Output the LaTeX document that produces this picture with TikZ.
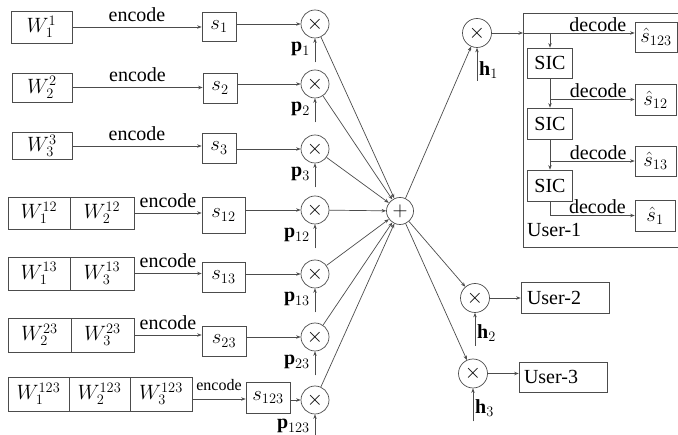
\documentclass[tikz,border=0pt]{standalone}
\usepackage{fontspec}
\setmainfont{Liberation Serif}
\usetikzlibrary{arrows.meta}
\definecolor{lc}{gray}{0.3}
\begin{document}
\begin{tikzpicture}[x=1pt,y=-1pt,
  every node/.style={font=\fontsize{20}{24}\selectfont},
  box/.style={draw=lc, line width=0.7pt, inner sep=0pt, anchor=center},
  mul/.style={circle, draw=lc, line width=0.7pt, minimum size=28pt, inner sep=0pt},
  arr/.style={draw=lc, line width=0.7pt, -{Stealth[length=4.5pt,width=3.5pt]}},
  ln/.style={draw=lc, line width=0.7pt},
  enc/.style={above, inner sep=5pt, midway},
  dec/.style={above, inner sep=1pt},
  plab/.style={anchor=east, inner sep=0pt},
  hlab/.style={anchor=west, inner sep=0pt}
]
\useasboundingbox (0,0) rectangle (678,435);

% ---- row 1
\node[box, minimum width=61pt, minimum height=32pt] (w1) at (41.5,27) {$W_1^1$};
\node[box, minimum width=34pt, minimum height=29pt] (s1) at (219,26.5) {$s_1$};
\node[mul] (m1) at (315,24) {$\times$};
% ---- row 2
\node[box, minimum width=60pt, minimum height=29pt] (w2) at (42,87.5) {$W_2^2$};
\node[box, minimum width=34pt, minimum height=30pt] (s2) at (220,88) {$s_2$};
\node[mul] (m2) at (315,84) {$\times$};
% ---- row 3
\node[box, minimum width=60pt, minimum height=27pt] (w3) at (42,146) {$W_3^3$};
\node[box, minimum width=34pt, minimum height=30pt] (s3) at (219,148) {$s_3$};
\node[mul] (m3) at (315,149) {$\times$};
% ---- row 4
\node[box, minimum width=62pt, minimum height=32pt] (w4a) at (39,213) {$W_1^{12}$};
\node[box, minimum width=64pt, minimum height=32pt] (w4b) at (102,213) {$W_2^{12}$};
\node[box, minimum width=43pt, minimum height=36pt] (s4) at (223.5,215) {$s_{12}$};
\node[mul] (m4) at (315,210) {$\times$};
% ---- row 5
\node[box, minimum width=62pt, minimum height=33pt] (w5a) at (39,273.5) {$W_1^{13}$};
\node[box, minimum width=64pt, minimum height=33pt] (w5b) at (102,273.5) {$W_3^{13}$};
\node[box, minimum width=43pt, minimum height=30pt] (s5) at (223.5,277) {$s_{13}$};
\node[mul] (m5) at (315,274) {$\times$};
% ---- row 6
\node[box, minimum width=63pt, minimum height=34pt] (w6a) at (39.5,335) {$W_2^{23}$};
\node[box, minimum width=63pt, minimum height=34pt] (w6b) at (102.5,335) {$W_3^{23}$};
\node[box, minimum width=44pt, minimum height=30pt] (s6) at (224,341) {$s_{23}$};
\node[mul] (m6) at (315,337) {$\times$};
% ---- row 7
\node[box, minimum width=61pt, minimum height=34pt] (w7a) at (38.5,394) {$W_1^{123}$};
\node[box, minimum width=61pt, minimum height=34pt] (w7b) at (99.5,394) {$W_2^{123}$};
\node[box, minimum width=62pt, minimum height=34pt] (w7c) at (161,394) {$W_3^{123}$};
\node[box, minimum width=44pt, minimum height=31pt] (s7) at (268,397.5) {$s_{123}$};
\node[mul] (m7) at (315,400) {$\times$};

% encode arrows
\draw[arr] (w1.east) -- (w1.east -| s1.west) node[enc] {encode};
\draw[arr] (w2.east) -- (w2.east -| s2.west) node[enc] {encode};
\draw[arr] (w3.east) -- (w3.east -| s3.west) node[enc] {encode};
\draw[arr] (w4b.east) -- (w4b.east -| s4.west) node[enc] {encode};
\draw[arr] (w5b.east) -- (w5b.east -| s5.west) node[enc] {encode};
\draw[arr] (w6b.east) -- (w6b.east -| s6.west) node[enc] {encode};
\draw[arr] ([yshift=-5pt]w7c.east) -- ([yshift=-5pt]w7c.east -| s7.west) node[enc, inner sep=8pt, font=\fontsize{16}{18}\selectfont] {encode};

% s -> multipliers
\foreach \i in {1,...,7} {
  \draw[arr] (m\i.west -| s\i.east) -- (m\i.west);
  \draw[arr] ([yshift=-24pt]m\i.south) -- (m\i.south);
}
\node[plab] at ([xshift=-5pt,yshift=-11pt]m1.south) {$\mathbf{p}_1$};
\node[plab] at ([xshift=-5pt,yshift=-11pt]m2.south) {$\mathbf{p}_2$};
\node[plab] at ([xshift=-5pt,yshift=-11pt]m3.south) {$\mathbf{p}_3$};
\node[plab] at ([xshift=-5pt,yshift=-11pt]m4.south) {$\mathbf{p}_{12}$};
\node[plab] at ([xshift=-5pt,yshift=-11pt]m5.south) {$\mathbf{p}_{13}$};
\node[plab] at ([xshift=-5pt,yshift=-11pt]m6.south) {$\mathbf{p}_{23}$};
\node[plab] at ([xshift=-5pt,yshift=-12pt]m7.south) {$\mathbf{p}_{123}$};

% adder
\node[mul, minimum size=27pt] (pl) at (400,211) {$+$};
\foreach \i in {1,...,7} { \draw[arr] (m\i) -- (pl); }

% channel multipliers
\node[mul, minimum size=29pt] (h1) at (477,33) {$\times$};
\node[mul, minimum size=29pt] (h2) at (475,298) {$\times$};
\node[mul, minimum size=29pt] (h3) at (473,373.5) {$\times$};
\draw[arr] (pl) -- (h1);
\draw[arr] (pl) -- (h2);
\draw[arr] (pl) -- (h3);
\foreach \k in {1,2,3} { \draw[arr] ([yshift=-33pt]h\k.south) -- (h\k.south); }
\node[hlab] at ([xshift=2pt,yshift=-22pt]h1.south) {$\mathbf{h}_1$};
\node[hlab] at ([xshift=2pt,yshift=-20pt]h2.south) {$\mathbf{h}_2$};
\node[hlab] at ([xshift=2pt,yshift=-20pt]h3.south) {$\mathbf{h}_3$};

% User-1 receiver
\draw[ln] (678,13) -- (523,13) -- (523,247) -- (678,247);
\coordinate (u1) at (523,33);
\coordinate (b1) at (550,33);
\node[box, minimum width=42pt, minimum height=30pt] (r1) at (656,37) {$\hat{s}_{123}$};
\node[box, minimum width=41pt, minimum height=31pt] (r2) at (655.5,99.5) {$\hat{s}_{12}$};
\node[box, minimum width=41pt, minimum height=30pt] (r3) at (655.5,161) {$\hat{s}_{13}$};
\node[box, minimum width=40pt, minimum height=31pt] (r4) at (655,215.5) {$\hat{s}_{1}$};
\node[box, minimum width=45pt, minimum height=30pt] (c1) at (550,63) {SIC};
\node[box, minimum width=45pt, minimum height=31pt] (c2) at (550,123.5) {SIC};
\node[box, minimum width=45pt, minimum height=31pt] (c3) at (550,185.5) {SIC};
\node[anchor=west, inner sep=0pt] (u1lab) at (527,230) {User-1};

\draw[arr] (h1.east) -- (u1);
\draw[arr] (u1) -- (u1 -| r1.west) node[dec, pos=0.67] {decode};
\draw[arr] (b1) -- (c1.north);
\draw[arr] (c1.south) -- (c2.north);
\draw[arr] (c1.south |- r2.west) -- (r2.west) node[dec, pos=0.57] {decode};
\draw[arr] (c2.south) -- (c3.north);
\draw[arr] (c2.south |- r3.west) -- (r3.west) node[dec, pos=0.57] {decode};
\draw[arr] (c3.south) |- (r4.west) node[dec, pos=0.78] {decode};

% User-2 and User-3
\node[box, text width=76pt, align=left, inner xsep=6pt, minimum height=31pt] (u2) at (565,297.5) {User-2};
\node[box, text width=78pt, align=left, inner xsep=5pt, minimum height=30pt] (u3) at (563,377) {User-3};
\draw[arr] (h2.east) -- (h2.east -| u2.west);
\draw[arr] (h3.east) -- (h3.east -| u3.west);
\end{tikzpicture}
\end{document}
